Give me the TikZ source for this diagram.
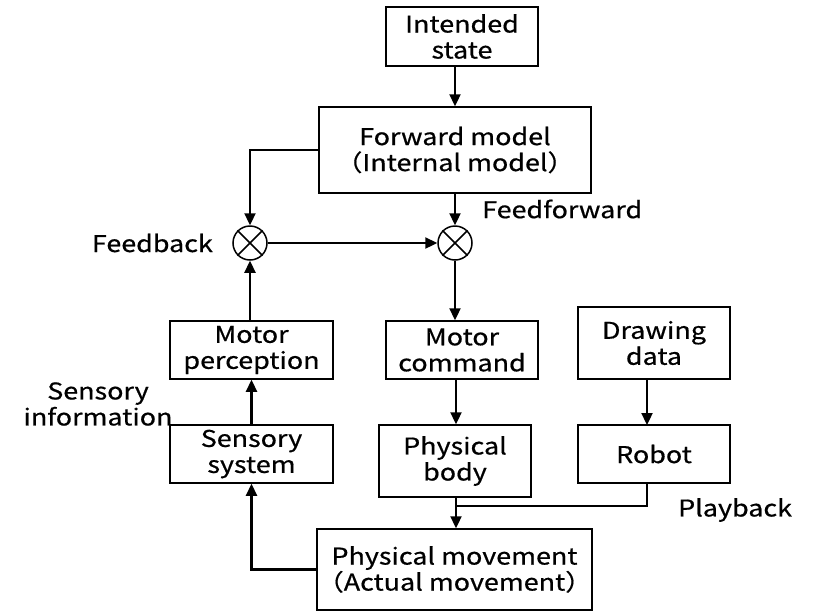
\documentclass[tikz,border=0pt]{standalone}
\usepackage{fontspec}
\setmainfont{Noto Sans CJK JP}[FakeStretch=1.17, FakeBold=0.6]
\usetikzlibrary{arrows.meta}
\tikzset{
  box/.style={draw, line width=1.5pt, align=center, inner sep=0pt, font=\fontsize{23}{26}\selectfont},
  lbl/.style={align=center, inner sep=0pt, font=\fontsize{23}{26}\selectfont},
  arr/.style={line width=2.3pt, -{Triangle[width=11pt,length=12pt]}},
  ln/.style={line width=2.3pt},
  sumc/.style={draw, circle, line width=1.5pt, minimum size=34pt, inner sep=0pt}
}
\begin{document}
\begin{tikzpicture}[x=1pt,y=-1pt]
\useasboundingbox (0,0) rectangle (817,611);
\node[box, minimum width=152pt, minimum height=59pt] (intended) at (462,36.5) {Intended\\state};
\node[box, minimum width=272pt, minimum height=86pt] (forward) at (455,150) {Forward model\\（Internal model）};
\node[sumc] (cl) at (250,243) {};
\node[sumc] (cr) at (455,243) {};
\draw[line width=1.5pt] (cl.north west) -- (cl.south east) (cl.north east) -- (cl.south west);
\draw[line width=1.5pt] (cr.north west) -- (cr.south east) (cr.north east) -- (cr.south west);
\node[box, minimum width=163pt, minimum height=58pt] (mperc) at (251.5,350) {Motor\\perception};
\node[box, minimum width=163pt, minimum height=58pt] (sens) at (251.5,454) {Sensory\\system};
\node[box, minimum width=152pt, minimum height=58pt] (mcmd) at (462,350) {Motor\\command};
\node[box, minimum width=152pt, minimum height=72pt] (body) at (455,461) {Physical\\body};
\node[box, minimum width=152pt, minimum height=72pt] (draw) at (654,343) {Drawing\\data};
\node[box, minimum width=152pt, minimum height=58pt] (robot) at (654,454) {Robot};
\node[box, minimum width=273pt, minimum height=81pt] (move) at (454.5,569.5) {Physical movement\\（Actual movement）};
\node[lbl, anchor=west] (ff) at (482,209) {Feedforward};
\node[lbl, anchor=east] (fb) at (213,243) {Feedback};
\node[lbl] (si) at (98,404) {Sensory\\information};
\node[lbl, anchor=west] (pb) at (678,510) {Playback};
\coordinate (j) at (456,506);
\draw[arr] (forward.north |- intended.south) -- (forward.north);
\draw[arr] (forward.west) -| (cl.north);
\draw[arr] (forward.south) -- (cr.north);
\draw[arr] (cl.east) -- (cr.west);
\draw[arr] (cr.south) -- (cr.south |- mcmd.north);
\draw[arr] (mperc.north -| cl.south) -- (cl.south);
\draw[arr] (sens.north) -- (mperc.south);
\draw[arr] (move.west) -| (sens.south);
\draw[arr] (j |- mcmd.south) -- (j |- body.north);
\draw[arr] (647,379) -- (647,425);
\draw[ln] (647,483) |- (j);
\draw[arr] (j |- body.south) -- (j |- move.north);
\end{tikzpicture}
\end{document}
